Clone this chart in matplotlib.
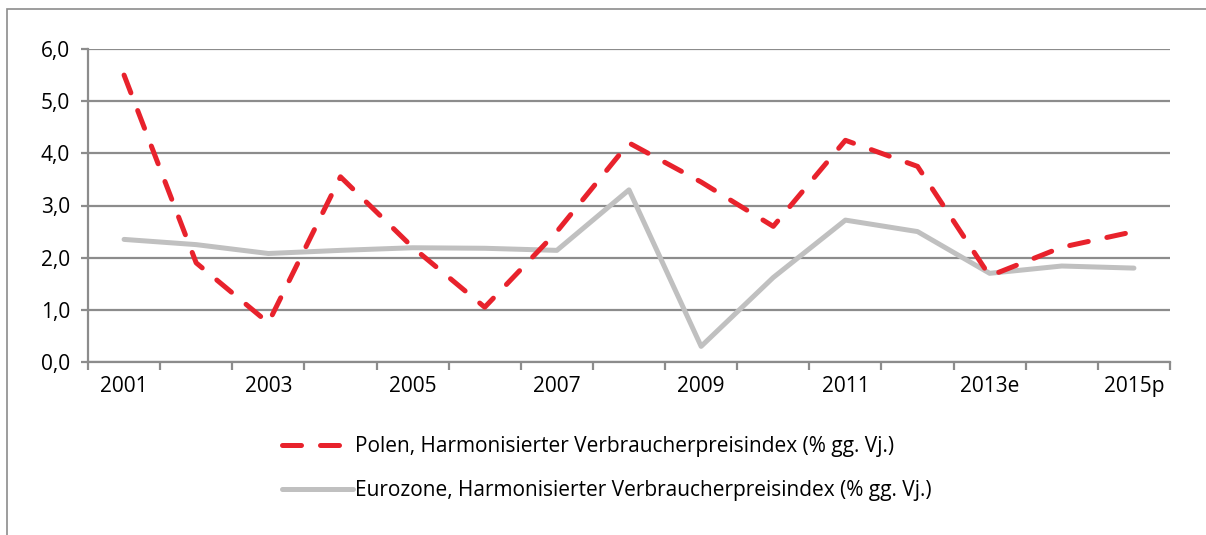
import numpy as np
import matplotlib.pyplot as plt
from matplotlib.patches import Rectangle

plt.rcParams['font.family'] = ['Open Sans', 'DejaVu Sans']

years = ['2001', '2002', '2003', '2004', '2005', '2006', '2007', '2008',
         '2009', '2010', '2011', '2012', '2013e', '2014', '2015p']
polen = [5.5, 1.9, 0.75, 3.55, 2.2, 1.05, 2.5, 4.2, 3.45, 2.6, 4.25, 3.75, 1.65, 2.2, 2.5]
eurozone = [2.35, 2.25, 2.08, 2.14, 2.19, 2.18, 2.14, 3.3, 0.3, 1.62, 2.72, 2.5, 1.7, 1.84, 1.8]
yticks = [0, 1, 2, 3, 4, 5, 6]
label_polen = 'Polen, Harmonisierter Verbraucherpreisindex (% gg. Vj.)'
label_euro = 'Eurozone, Harmonisierter Verbraucherpreisindex (% gg. Vj.)'

grey = '#8c8c8c'
red = '#e8222c'
lightgrey = '#c0c0c0'

fig = plt.figure(figsize=(12.06, 5.35), dpi=100)
ax = fig.add_axes([88 / 1206, 1 - 362 / 535, (1170 - 88) / 1206, (362 - 49) / 535])

# outer frame (left and top edge only visible)
fig.patches.append(Rectangle((7 / 1206, -0.5), 2, 1.5 - 9 / 535, transform=fig.transFigure,
                             fill=False, edgecolor=grey, linewidth=1.2))

x = np.arange(len(years))
ax.plot(x, polen, color=red, linewidth=3.6, linestyle=(0, (3.8, 3.8)),
        dash_capstyle='round', solid_capstyle='round', label=label_polen, zorder=3)
ax.plot(x, eurozone, color=lightgrey, linewidth=3.6, solid_capstyle='round',
        label=label_euro, zorder=2)

ax.set_xlim(-0.5, len(years) - 0.5)
ax.set_ylim(0, 6)
ax.set_yticks(yticks)
ax.set_yticklabels([f'{v:.1f}'.replace('.', ',') for v in yticks])
ax.yaxis.grid(True, color=grey, linewidth=1.6)
ax.set_axisbelow(True)

ax.set_xticks(np.arange(-0.5, len(years), 1.0))
ax.set_xticklabels([])
ax.set_xticks(x[::2], minor=True)
ax.set_xticklabels(years[::2], minor=True)

for s in ['top', 'right']:
    ax.spines[s].set_visible(False)
for s in ['left', 'bottom']:
    ax.spines[s].set_color(grey)
    ax.spines[s].set_linewidth(1.6)

ax.tick_params(axis='x', which='major', length=6, width=1.6, color=grey, direction='out')
ax.tick_params(axis='x', which='minor', length=0, pad=10, labelsize=15)
ax.tick_params(axis='y', length=5, width=1.6, color=grey, pad=8, labelsize=15)

leg = fig.legend(loc='upper left', bbox_to_anchor=(274 / 1206, 1 - 428 / 535),
                 frameon=False, fontsize=15, handlelength=3.4, handletextpad=0.1,
                 labelspacing=1.1, borderaxespad=0)

fig.savefig('out.png', dpi=100)
